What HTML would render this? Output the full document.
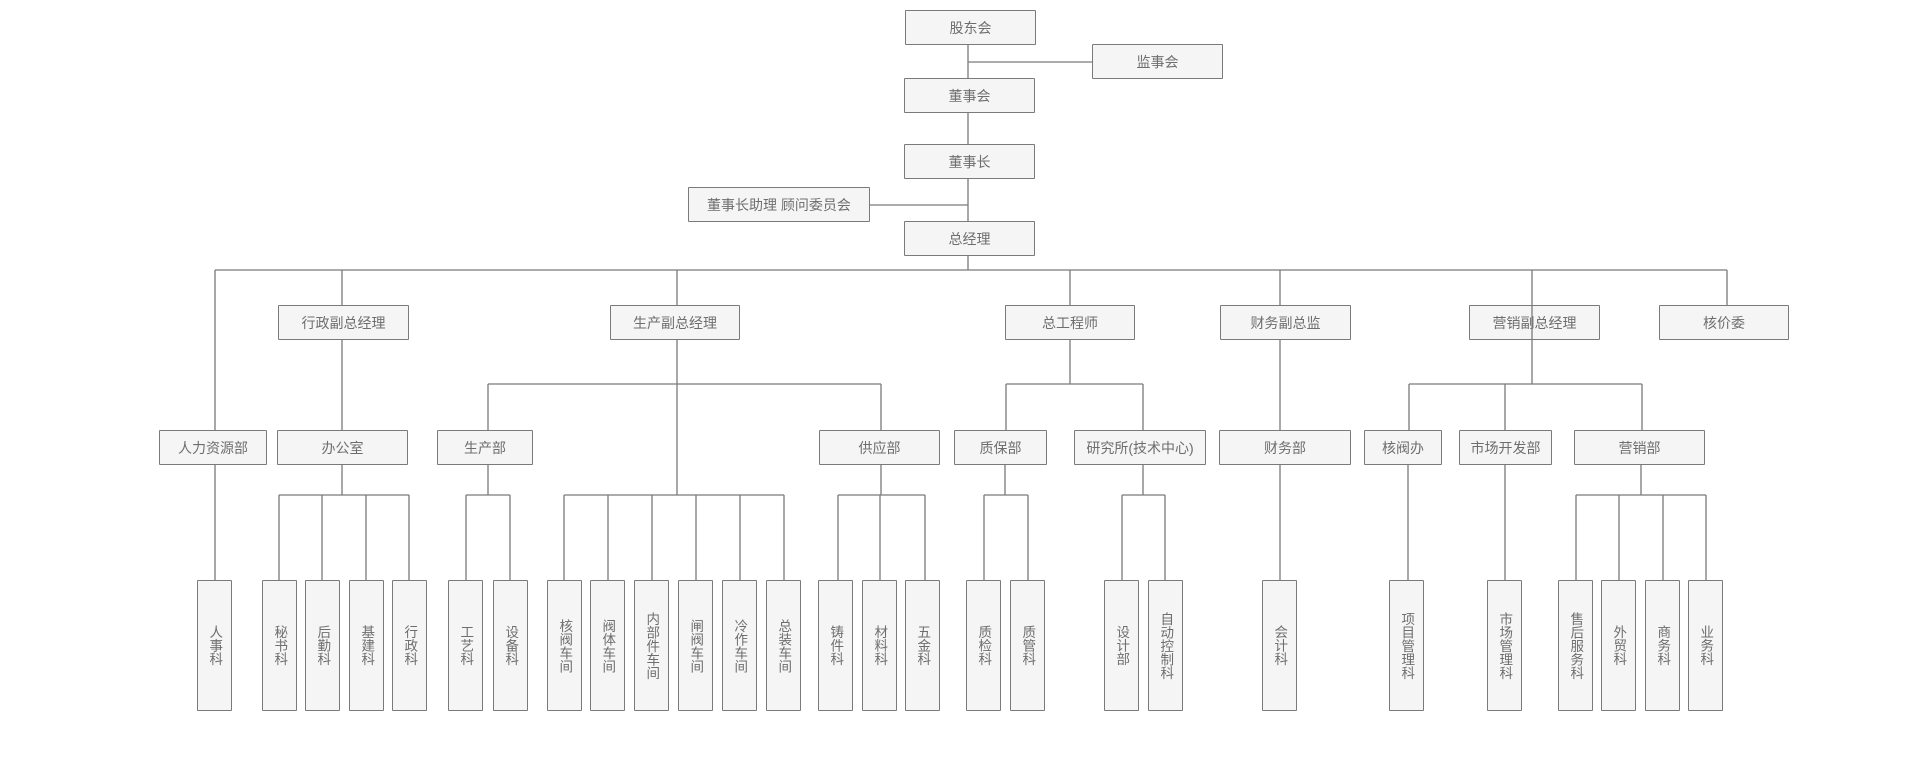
<!DOCTYPE html>
<html><head><meta charset="utf-8"><style>
html,body{margin:0;padding:0;background:#fff;}
body{width:1920px;height:760px;position:relative;overflow:hidden;font-family:"Liberation Sans","Noto Sans CJK SC",sans-serif;}
.b{position:absolute;box-sizing:border-box;border:1.3px solid #7a7a7a;background:#f5f5f5;color:#6e6e6e;font-size:14px;display:flex;align-items:center;justify-content:center;border-radius:1px;}
.l{width:35px;height:131px;top:580px;}
.v{writing-mode:vertical-lr;text-orientation:upright;letter-spacing:0;font-size:13.5px;line-height:1;}
svg{position:absolute;left:0;top:0;}
</style></head><body>
<svg width="1920" height="760">
<g stroke="#7a7a7a" stroke-width="1.3" fill="none">
<path d="M968 45V78M968 62H1092M968 113V144M968 179V221M870 205H968M968 256V270"/>
<path d="M215 270H1727"/>
<path d="M215 270V430M215 465V580"/>
<path d="M342 270V305M342 340V430M342 465V495M279 495H409M279 495V580M322 495V580M366 495V580M409 495V580"/>
<path d="M677 270V305M677 340V495M488 384H881M488 384V430M881 384V430"/>
<path d="M488 465V495M466 495H510M466 495V580M510 495V580"/>
<path d="M564 495H784M564 495V580M608 495V580M652 495V580M696 495V580M740 495V580M784 495V580"/>
<path d="M881 465V495M838 495H925M838 495V580M880 495V580M925 495V580"/>
<path d="M1070 270V305M1070 340V384M1006 384H1143M1006 384V430M1143 384V430"/>
<path d="M1005 465V495M984 495H1028M984 495V580M1028 495V580"/>
<path d="M1143 465V495M1122 495H1165M1122 495V580M1165 495V580"/>
<path d="M1280 270V305M1280 340V430M1280 465V580"/>
<path d="M1532 270V384M1409 384H1642M1409 384V430M1505 384V430M1642 384V430"/>
<path d="M1408 465V580M1505 465V580"/>
<path d="M1641 465V495M1576 495H1706M1576 495V580M1619 495V580M1663 495V580M1706 495V580"/>
<path d="M1727 270V305"/>
</g></svg>

<div class="b" style="left:905px;top:10px;width:131px;height:35px">股东会</div>
<div class="b" style="left:1092px;top:44px;width:131px;height:35px">监事会</div>
<div class="b" style="left:904px;top:78px;width:131px;height:35px">董事会</div>
<div class="b" style="left:904px;top:144px;width:131px;height:35px">董事长</div>
<div class="b" style="left:688px;top:187px;width:182px;height:35px">董事长助理 顾问委员会</div>
<div class="b" style="left:904px;top:221px;width:131px;height:35px">总经理</div>

<div class="b" style="left:278px;top:305px;width:131px;height:35px">行政副总经理</div>
<div class="b" style="left:610px;top:305px;width:130px;height:35px">生产副总经理</div>
<div class="b" style="left:1005px;top:305px;width:130px;height:35px">总工程师</div>
<div class="b" style="left:1220px;top:305px;width:131px;height:35px">财务副总监</div>
<div class="b" style="left:1469px;top:305px;width:131px;height:35px">营销副总经理</div>
<div class="b" style="left:1659px;top:305px;width:130px;height:35px">核价委</div>
<svg width="1920" height="760" style="z-index:1;pointer-events:none"><path d="M1532 305V340" stroke="#7a7a7a" stroke-width="1.3"/></svg>

<div class="b" style="left:159px;top:430px;width:108px;height:35px">人力资源部</div>
<div class="b" style="left:277px;top:430px;width:131px;height:35px">办公室</div>
<div class="b" style="left:437px;top:430px;width:96px;height:35px">生产部</div>
<div class="b" style="left:819px;top:430px;width:121px;height:35px">供应部</div>
<div class="b" style="left:954px;top:430px;width:93px;height:35px">质保部</div>
<div class="b" style="left:1074px;top:430px;width:132px;height:35px">研究所(技术中心)</div>
<div class="b" style="left:1219px;top:430px;width:132px;height:35px">财务部</div>
<div class="b" style="left:1364px;top:430px;width:78px;height:35px">核阀办</div>
<div class="b" style="left:1459px;top:430px;width:93px;height:35px">市场开发部</div>
<div class="b" style="left:1574px;top:430px;width:131px;height:35px">营销部</div>

<div class="b l" style="left:197px"><span class="v">人事科</span></div>
<div class="b l" style="left:262px"><span class="v">秘书科</span></div>
<div class="b l" style="left:305px"><span class="v">后勤科</span></div>
<div class="b l" style="left:349px"><span class="v">基建科</span></div>
<div class="b l" style="left:392px"><span class="v">行政科</span></div>
<div class="b l" style="left:448px"><span class="v">工艺科</span></div>
<div class="b l" style="left:493px"><span class="v">设备科</span></div>
<div class="b l" style="left:547px"><span class="v">核阀车间</span></div>
<div class="b l" style="left:590px"><span class="v">阀体车间</span></div>
<div class="b l" style="left:634px"><span class="v">内部件车间</span></div>
<div class="b l" style="left:678px"><span class="v">闸阀车间</span></div>
<div class="b l" style="left:722px"><span class="v">冷作车间</span></div>
<div class="b l" style="left:766px"><span class="v">总装车间</span></div>
<div class="b l" style="left:818px"><span class="v">铸件科</span></div>
<div class="b l" style="left:862px"><span class="v">材料科</span></div>
<div class="b l" style="left:905px"><span class="v">五金科</span></div>
<div class="b l" style="left:966px"><span class="v">质检科</span></div>
<div class="b l" style="left:1010px"><span class="v">质管科</span></div>
<div class="b l" style="left:1104px"><span class="v">设计部</span></div>
<div class="b l" style="left:1148px"><span class="v">自动控制科</span></div>
<div class="b l" style="left:1262px"><span class="v">会计科</span></div>
<div class="b l" style="left:1389px"><span class="v">项目管理科</span></div>
<div class="b l" style="left:1487px"><span class="v">市场管理科</span></div>
<div class="b l" style="left:1558px"><span class="v">售后服务科</span></div>
<div class="b l" style="left:1601px"><span class="v">外贸科</span></div>
<div class="b l" style="left:1645px"><span class="v">商务科</span></div>
<div class="b l" style="left:1688px"><span class="v">业务科</span></div>
</body></html>
